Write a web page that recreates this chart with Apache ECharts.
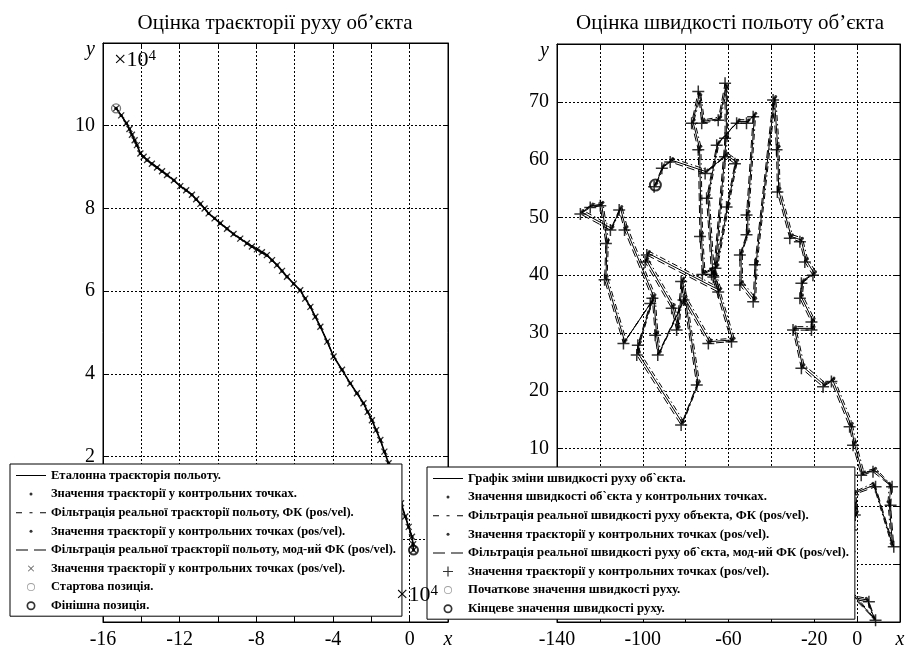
<!DOCTYPE html>
<html>
<head>
<meta charset="utf-8">
<script src="https://cdn.jsdelivr.net/npm/echarts@6/dist/echarts.min.js"></script>
<style>
  html, body { margin: 0; padding: 0; background: #fff; }
  #chart { width: 907px; height: 653px; }
</style>
</head>
<body>
<div id="chart"></div>
<script>
// траєкторія, x10^4
var traj = [[-15.32,10.42],[-15.05,10.25],[-14.78,10.06],[-14.62,9.92],[-14.49,9.78],[-14.35,9.65],[-14.23,9.53],[-14.05,9.33],
  [-13.88,9.25],[-13.70,9.17],[-13.45,9.08],[-13.18,8.99],[-12.92,8.90],[-12.66,8.81],[-12.30,8.68],[-11.97,8.54],[-11.66,8.44],
  [-11.36,8.33],[-11.14,8.22],[-10.92,8.11],[-10.70,8.00],[-10.49,7.88],[-10.18,7.76],[-9.88,7.64],[-9.53,7.51],[-9.19,7.38],
  [-8.84,7.27],[-8.49,7.16],[-8.23,7.08],[-7.97,7.01],[-7.71,6.94],[-7.45,6.87],[-7.18,6.75],[-6.92,6.63],[-6.66,6.49],[-6.40,6.35],
  [-6.05,6.18],[-5.71,6.02],[-5.45,5.82],[-5.18,5.62],[-4.92,5.38],[-4.66,5.14],[-4.30,4.78],[-3.97,4.42],[-3.53,4.10],[-3.10,3.77],
  [-2.75,3.53],[-2.41,3.29],[-2.19,3.08],[-1.97,2.88],[-1.75,2.64],[-1.53,2.40],[-1.32,2.12],[-1.10,1.84],[-0.88,1.52],[-0.66,1.19],
  [-0.45,0.87],[-0.23,0.55],[-0.05,0.30],[0.12,0.06],[0.18,-0.12],[0.20,-0.26]];
var trajStart = [[-15.32,10.42]];
var trajFinish = [[0.20,-0.26]];

// швидкість
var velRef = [[-94.1,55.6],[-90.5,58.8],[-86.6,59.9],[-70.3,57.9],[-61.0,60.8],[-56.4,59.6],[-60.3,52.1],[-65.5,41.5],[-71.6,40.4],
  [-72.7,47.0],[-73.5,62.0],[-76.6,66.6],[-73.5,71.5],[-71.9,66.6],[-64.2,67.1],[-61.0,72.9],[-61.0,64.0],[-66.5,40.0],[-64.2,37.4],
  [-97.5,43.8],[-98.3,42.6],[-85.9,34.6],[-83.6,30.8],[-81.5,39.2],[-74.2,21.3],[-81.5,14.4],[-102.2,26.5],[-101.7,28.2],[-95.9,35.4],
  [-108.4,28.5],[-117.2,39.5],[-116.6,45.8],[-119.2,52.3],[-123.9,52.0],[-128.5,50.9],[-114.5,48.1],[-110.4,51.6],[-107.9,48.1],
  [-94.9,36.3],[-93.6,29.9],[-92.4,26.5],[-80.4,36.0],[-68.8,28.5],[-58.0,28.8],[-67.3,40.4],[-69.6,53.6],[-64.9,62.8],[-55.6,66.6],
  [-51.0,66.6],[-47.9,67.7],[-51.0,50.7],[-51.0,47.3],[-54.1,43.8],[-54.1,38.6],[-47.9,35.7],[-47.1,42.1],[-38.6,70.6],[-37.0,62.0],
  [-36.6,54.7],[-30.8,46.7],[-26.1,46.1],[-23.8,42.6],[-20.0,40.3],[-25.4,38.9],[-26.1,36.3],[-20.7,32.2],[-20.7,30.8],[-29.3,30.8],
  [-25.4,24.2],[-15.3,21.0],[-11.4,21.9],[-2.9,14.1],[-1.3,10.9],[2.5,5.7],[8.0,6.3],[15.7,3.7],[15.0,0.5],[16.5,-6.7],[8.0,3.7],
  [-1.3,2.3],[-0.5,-1.2],[-2.1,-3.8],[-2.9,-7.5],[-3.7,-10.1],[-4.5,-15.6],[4.9,-16.2],[8.0,-19.4],[-6.8,-13.3],[-16.0,-8.0],
  [-7.5,-1.2],[-2.1,0.0]];
var velFilt = [[-93.5,55.9],[-89.9,59.1],[-86.0,60.2],[-69.7,58.2],[-60.4,61.1],[-55.8,59.9],[-59.7,52.4],[-64.9,41.8],[-71.0,40.7],
  [-72.1,47.3],[-72.9,62.3],[-76.0,66.9],[-72.9,71.2],[-71.3,66.9],[-63.6,67.4],[-60.4,72.6],[-60.4,64.3],[-65.9,40.3],[-63.6,37.7],
  [-96.9,44.1],[-97.7,42.9],[-85.3,34.9],[-83.0,31.1],[-80.9,39.5],[-73.6,21.6],[-80.9,14.7],[-101.6,26.8],[-101.1,28.5],[-95.3,35.7],
  [-107.8,28.8],[-116.6,39.8],[-116.0,46.1],[-118.6,52.6],[-123.3,52.3],[-127.9,51.2],[-113.9,48.4],[-109.8,51.9],[-107.3,48.4],
  [-94.3,36.6],[-93.0,30.2],[-91.8,26.8],[-79.8,36.3],[-68.2,28.8],[-57.4,29.1],[-66.7,40.7],[-69.0,53.9],[-64.3,63.1],[-55.0,66.9],
  [-50.4,66.9],[-47.3,68.0],[-50.4,51.0],[-50.4,47.6],[-53.5,44.1],[-53.5,38.9],[-47.3,36.0],[-46.5,42.4],[-38.0,70.9],[-36.4,62.3],
  [-36.0,55.0],[-30.2,47.0],[-25.5,46.4],[-23.2,42.9],[-19.4,40.6],[-24.8,39.2],[-25.5,36.6],[-20.1,32.5],[-20.1,31.1],[-28.7,31.1],
  [-24.8,24.5],[-14.7,21.3],[-10.8,22.2],[-2.3,14.4],[-0.7,11.2],[3.1,6.0],[8.6,6.6],[15.1,4.0],[14.4,0.8],[15.9,-6.4],[7.4,4.0],
  [-0.7,2.6],[0.1,-0.9],[-1.5,-3.5],[-2.3,-7.2],[-3.1,-9.8],[-3.9,-15.3],[4.3,-15.9],[7.4,-19.1],[-6.2,-13.0],[-15.4,-7.7],
  [-6.9,-0.9],[-1.5,0.3]];
var velMod = [[-94.7,55.3],[-91.1,58.5],[-87.2,59.6],[-70.9,57.6],[-61.6,60.5],[-57.0,59.3],[-60.9,51.8],[-66.1,41.2],[-72.2,40.1],
  [-73.3,46.7],[-74.1,61.7],[-77.2,66.3],[-74.1,71.8],[-72.5,66.3],[-64.8,66.8],[-61.6,73.2],[-61.6,63.7],[-67.1,39.7],[-64.8,37.1],
  [-98.1,43.5],[-98.9,42.3],[-86.5,34.3],[-84.2,30.5],[-82.1,38.9],[-74.8,21.0],[-82.1,14.1],[-102.8,26.2],[-102.3,27.9],[-96.5,35.1],
  [-109.0,28.2],[-117.8,39.2],[-117.2,45.5],[-119.8,52.0],[-124.5,51.7],[-129.1,50.6],[-115.1,47.8],[-111.0,51.3],[-108.5,47.8],
  [-95.5,36.0],[-94.2,29.6],[-93.0,26.2],[-81.0,35.7],[-69.4,28.2],[-58.6,28.5],[-67.9,40.1],[-70.2,53.3],[-65.5,62.5],[-56.2,66.3],
  [-51.6,66.3],[-48.5,67.4],[-51.6,50.4],[-51.6,47.0],[-54.7,43.5],[-54.7,38.3],[-48.5,35.4],[-47.7,41.8],[-39.2,70.3],[-37.6,61.7],
  [-37.2,54.4],[-31.4,46.4],[-26.7,45.8],[-24.4,42.3],[-20.6,40.0],[-26.0,38.6],[-26.7,36.0],[-21.3,31.9],[-21.3,30.5],[-29.9,30.5],
  [-26.0,23.9],[-15.9,20.7],[-12.0,21.6],[-3.5,13.8],[-1.9,10.6],[1.9,5.4],[7.4,6.0],[16.3,3.4],[15.6,0.2],[17.1,-7.0],[8.6,3.4],
  [-1.9,2.0],[-1.1,-1.5],[-2.7,-4.1],[-3.5,-7.8],[-4.3,-10.4],[-5.1,-15.9],[5.5,-16.5],[8.6,-19.7],[-7.4,-13.6],[-16.6,-8.3],
  [-8.1,-1.5],[-2.7,-0.3]];
var velStart = [[-94.1,55.6]];
var velFinish = [[-2.1,0.0]];

// підписи шкал
var trajXTicks = [-16, -12, -8, -4, 0];
var trajYTicks = [2, 4, 6, 8, 10];
var velXTicks = [-140, -100, -60, -20, 0];
var velYTicks = [10, 20, 30, 40, 50, 60, 70];

var namesL = ['Еталонна траєкторія польоту.',
  'Значення траєкторії у контрольних точках.',
  'Фільтрація реальної траєкторії польоту, ФК (pos/vel).',
  'Значення траєкторії у контрольних точках (pos/vel).',
  'Фільтрація реальної траєкторії польоту, мод-ий ФК (pos/vel).',
  'Значення траєкторії у контрольних точках (pos/vel). ',
  'Стартова позиція.',
  'Фінішна позиція.'];
var namesR = ['Графік зміни швидкості руху об`єкта.',
  'Значення швидкості об`єкта у контрольних точках.',
  'Фільтрація реальної швидкості руху объекта, ФК (pos/vel).',
  'Значення траєкторії у контрольних точках (pos/vel).  ',
  'Фільтрація реальної швидкості руху об`єкта, мод-ий ФК (pos/vel).',
  'Значення траєкторії у контрольних точках (pos/vel).   ',
  'Початкове значення швидкості руху.',
  'Кінцеве значення швидкості руху.'];

var SERIF = '"Liberation Serif", "Times New Roman", serif';
var chart = echarts.init(document.getElementById('chart'));

// значки легенди, рамка 30x10
var P = 'path://M0,0M30,10';
var ic = {
  solid: P + 'M0,4.5H30V5.5H0Z',
  dot: P + 'M13.5,5A1.5,1.5,0,1,1,16.5,5A1.5,1.5,0,1,1,13.5,5Z',
  dashdot: P + 'M0,4.5H6V5.5H0ZM13.5,4.5H16.5V5.5H13.5ZM24,4.5H30V5.5H24Z',
  dash: P + 'M0,4.5H12V5.5H0ZM18,4.5H30V5.5H18Z',
  cross: P + 'M12.4,2L15,4.6L17.6,2L18,2.4L15.4,5L18,7.6L17.6,8L15,5.4L12.4,8L12,7.6L14.6,5L12,2.4Z',
  plus: P + 'M14.4,0H15.6V4.4H20V5.6H15.6V10H14.4V5.6H10V4.4H14.4Z',
  ring: P + 'M15,1A4,4,0,1,1,15,9A4,4,0,1,1,15,1ZM15,1.8A3.2,3.2,0,1,0,15,8.2A3.2,3.2,0,1,0,15,1.8Z',
  ringBold: P + 'M15,0.5A4.5,4.5,0,1,1,15,9.5A4.5,4.5,0,1,1,15,0.5ZM15,2.2A2.8,2.8,0,1,0,15,7.8A2.8,2.8,0,1,0,15,2.2Z'
};
var iconsL = [ic.solid, ic.dot, ic.dashdot, ic.dot, ic.dash, ic.cross, ic.ring, ic.ringBold];
var iconsR = [ic.solid, ic.dot, ic.dashdot, ic.dot, ic.dash, ic.plus, ic.ring, ic.ringBold];

function labelFmt(ticks, maxV, letter) {
  return function (v) {
    if (v === maxV) return '{i|' + letter + '}';
    return ticks.indexOf(v) >= 0 ? String(v) : '';
  };
}

function axis(gi, pos, min, max, step, fmt, isY) {
  var a = {
    type: 'value', gridIndex: gi, position: pos, min: min, max: max, interval: step,
    axisLine: { show: true, onZero: false, lineStyle: { color: '#000', width: 1 } },
    axisTick: { show: true, inside: true, length: 5, lineStyle: { color: '#000', width: 1 } },
    splitLine: { show: false },
    axisLabel: { show: false }
  };
  if (fmt) {
    a.splitLine = { show: true, lineStyle: { color: '#000', width: 1, type: [2, 2] } };
    a.axisLabel = {
      show: true, color: '#000', fontFamily: SERIF, fontSize: 20, margin: 8, formatter: fmt,
      rich: { i: { fontFamily: SERIF, fontSize: 20, fontStyle: 'italic', color: '#000',
        padding: isY ? [14, 0, 0, 0] : [0, 0, 0, 0] } }
    };
  }
  return a;
}

function lineS(name, data, gi, dash, w) {
  return { type: 'line', name: name, data: data, xAxisIndex: gi * 2, yAxisIndex: gi * 2, symbol: 'none',
    lineStyle: { color: '#000', width: w || 1, type: dash }, itemStyle: { color: '#000' }, silent: true, z: 2 };
}
function markS(name, data, gi, symbol, size, style) {
  return { type: 'scatter', name: name, data: data, xAxisIndex: gi * 2, yAxisIndex: gi * 2,
    symbol: symbol, symbolSize: size, itemStyle: style, silent: true, z: 3 };
}

var dotStyle = { color: '#000' };
var crossSym = 'path://M0,0L10,10M10,0L0,10';
var plusSym = 'path://M5,0L5,10M0,5L10,5';

function legendOf(names, icons, left, top, fs) {
  return {
    orient: 'vertical', left: left, top: top, padding: [5, 6, 4, 6],
    itemWidth: 30, itemHeight: 10, itemGap: 5.6, selectedMode: false,
    backgroundColor: '#fff', borderColor: '#000', borderWidth: 1, borderRadius: 0, z: 10,
    textStyle: { fontFamily: SERIF, fontWeight: 'bold', fontSize: fs, lineHeight: 13, color: '#000' },
    data: names.map(function (n, i) {
      return { name: n, icon: icons[i], itemStyle: { color: i === 6 ? '#888' : '#000', borderWidth: 0 } };
    })
  };
}

var expText = { fontFamily: SERIF, fontSize: 22, fill: '#000',
  rich: { s: { fontFamily: SERIF, fontSize: 15, verticalAlign: 'top' } } };

var option = {
  animation: false,
  backgroundColor: '#fff',
  title: [
    { text: 'Оцінка траєкторії руху об’єкта', left: 270, top: 8, textAlign: 'center',
      textStyle: { fontFamily: SERIF, fontSize: 21, fontWeight: 'normal', color: '#000' } },
    { text: 'Оцінка швидкості польоту об’єкта', left: 725, top: 8, textAlign: 'center',
      textStyle: { fontFamily: SERIF, fontSize: 21, fontWeight: 'normal', color: '#000' } }
  ],
  grid: [
    { left: 103, top: 43, width: 345, height: 579, show: true, borderColor: '#000', borderWidth: 1, outerBoundsMode: 'none' },
    { left: 557, top: 44, width: 343, height: 578, show: true, borderColor: '#000', borderWidth: 1, outerBoundsMode: 'none' }
  ],
  xAxis: [
    axis(0, 'bottom', -16, 2, 2, labelFmt(trajXTicks, 2, 'x'), false),
    axis(0, 'top', -16, 2, 2, null),
    axis(1, 'bottom', -140, 20, 20, labelFmt(velXTicks, 20, 'x'), false),
    axis(1, 'top', -140, 20, 20, null)
  ],
  yAxis: [
    axis(0, 'left', -2, 12, 2, labelFmt(trajYTicks, 12, 'y'), true),
    axis(0, 'right', -2, 12, 2, null),
    axis(1, 'left', -20, 80, 10, labelFmt(velYTicks, 80, 'y'), true),
    axis(1, 'right', -20, 80, 10, null)
  ],
  legend: [legendOf(namesL, iconsL, 10, 464, 12.5), legendOf(namesR, iconsR, 427, 467, 12.8)],
  graphic: [
    { type: 'text', left: 114, top: 49, z: 100, style: Object.assign({ text: '×10{s|4}' }, expText) },
    { type: 'text', left: 396, top: 584, z: 100, style: Object.assign({ text: '×10{s|4}' }, expText) }
  ],
  series: [
    lineS(namesL[0], traj, 0, 'solid', 1.6),
    markS(namesL[1], traj, 0, 'circle', 3, dotStyle),
    lineS(namesL[2], traj, 0, [6, 3, 1.5, 3]),
    markS(namesL[3], traj, 0, 'circle', 3, dotStyle),
    lineS(namesL[4], traj, 0, [8, 4]),
    markS(namesL[5], traj, 0, crossSym, 6, { color: 'rgba(0,0,0,0)', borderColor: '#000', borderWidth: 1.3 }),
    markS(namesL[6], trajStart, 0, 'circle', 9, { color: 'rgba(0,0,0,0)', borderColor: '#555', borderWidth: 1.3 }),
    markS(namesL[7], trajFinish, 0, 'circle', 9, { color: 'rgba(0,0,0,0)', borderColor: '#000', borderWidth: 2 }),

    lineS(namesR[0], velRef, 1, 'solid'),
    markS(namesR[1], velRef, 1, 'circle', 3, dotStyle),
    lineS(namesR[2], velFilt, 1, [6, 3, 1.5, 3]),
    markS(namesR[3], velFilt, 1, 'circle', 3, dotStyle),
    lineS(namesR[4], velMod, 1, [8, 4]),
    markS(namesR[5], velMod, 1, plusSym, 12, { color: 'rgba(0,0,0,0)', borderColor: '#000', borderWidth: 1.5 }),
    markS(namesR[6], velStart, 1, 'circle', 11, { color: 'rgba(0,0,0,0)', borderColor: '#000', borderWidth: 2 }),
    markS(namesR[7], velFinish, 1, 'circle', 9, { color: 'rgba(0,0,0,0)', borderColor: '#000', borderWidth: 2 })
  ]
};

chart.setOption(option);
</script>
</body>
</html>
